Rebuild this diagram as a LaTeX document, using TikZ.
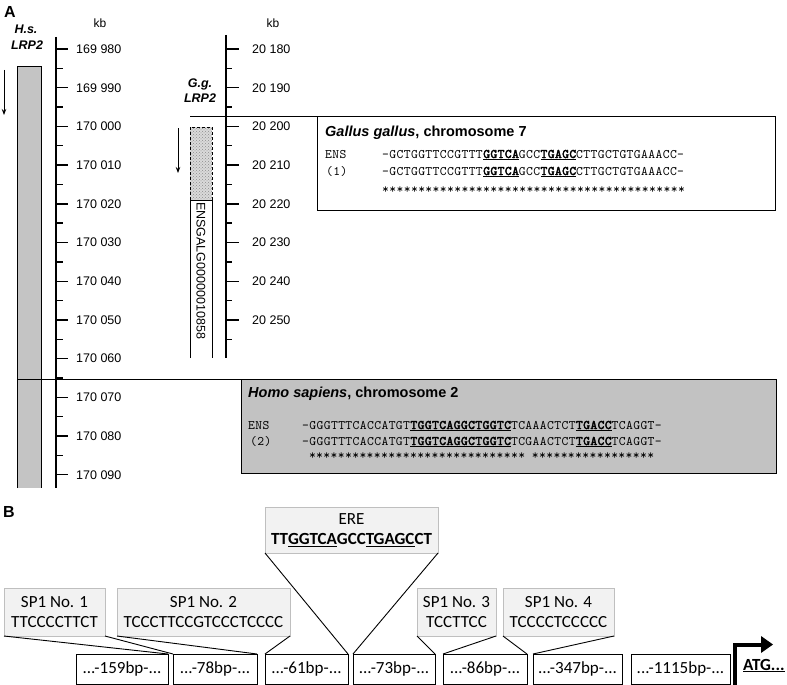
\documentclass[tikz,border=0pt]{standalone}
\usepackage{fontspec}
\setmainfont{Liberation Sans}
\newfontfamily\calfont{Carlito}
\newfontfamily\seqfont{lmmono10-regular.otf}[LetterSpace=3,BoldFont=lmmono10-regular.otf,BoldFeatures={FakeBold=3}]
\usetikzlibrary{arrows.meta,patterns}
\definecolor{bargray}{HTML}{C4C4C4}
\definecolor{boxgray}{HTML}{C2C2C2}
\definecolor{hatchgray}{HTML}{DADADA}
\definecolor{callfill}{HTML}{F2F2F2}
\definecolor{callline}{HTML}{BFBFBF}
\tikzset{
 axisline/.style={line width=1.4pt},
 tickline/.style={line width=1.4pt},
 ticklab/.style={anchor=west, inner sep=0, font=\fontsize{12.5}{15}\selectfont},
 kblab/.style={inner sep=0, font=\fontsize{12}{14}\selectfont},
 thinline/.style={line width=0.9pt},
 seqbox/.style={draw, line width=1pt, inner sep=0, outer sep=0, anchor=north west},
 callout/.style={draw=callline, fill=callfill, line width=0.9pt, inner sep=0, outer sep=0, align=center, font=\calfont\fontsize{17}{20.5}\selectfont},
 bpbox/.style={draw, line width=1pt, inner sep=0, outer sep=0, minimum height=30, font=\calfont\fontsize{17}{20}\selectfont},
 seqtxt/.style={anchor=base west, inner sep=0, font=\seqfont\fontsize{13}{15}\selectfont},
 titletxt/.style={anchor=base west, inner sep=0, font=\bfseries\fontsize{14.5}{17}\selectfont},
 panellab/.style={inner sep=0, font=\bfseries\fontsize{16}{19}\selectfont},
 genelab/.style={inner sep=0, font=\bfseries\itshape\fontsize{12.5}{15}\selectfont},
 callconn/.style={line width=0.9pt},
 smallarrow/.style={line width=0.9pt, -{Stealth[length=6pt,width=4.5pt]}},
}
\begin{document}
\begin{tikzpicture}[x=1pt,y=-1pt]
\useasboundingbox (0,0) rectangle (787,685);

% ---------------- Panel A ----------------
\node[panellab] (pA) at (10,12) {A};
\node[genelab] (hs1) at (26,29) {H.s.};
\node[genelab] (hs2) at (27,45) {LRP2};
\node[genelab] (gg1) at (200,84) {G.g.};
\node[genelab] (gg2) at (200,98) {LRP2};
\node[kblab] (kb1) at (100,23) {kb};
\node[kblab] (kb2) at (273,23) {kb};

% human gene bar
\fill[bargray] (17,66) rectangle (41,488);
\draw[thinline] (17,488) -- (17,66) -- (41,66) -- (41,488);
\coordinate (ha1) at (4,70);
\coordinate (ha2) at (4,115);
\draw[smallarrow] (ha1) -- (ha2);

% left axis
\draw[axisline] (56,37) -- (56,488);
\foreach \lab [count=\i from 0] in {169 980,169 990,170 000,170 010,170 020,170 030,170 040,170 050,170 060,170 070,170 080,170 090}{
  \pgfmathsetmacro\yy{49+38.7*\i}
  \draw[tickline] (56,\yy) -- (68,\yy);
  \node[ticklab] (L\i) at (76,\yy) {\lab};
}
\foreach \i in {0,...,10}{
  \pgfmathsetmacro\yy{49+38.7*\i+19.35}
  \draw[tickline] (56,\yy) -- (63,\yy);
}

% right axis
\draw[axisline] (226,35) -- (226,358);
\foreach \lab [count=\i from 0] in {20 180,20 190,20 200,20 210,20 220,20 230,20 240,20 250}{
  \pgfmathsetmacro\yy{49+38.7*\i}
  \draw[tickline] (226,\yy) -- (239,\yy);
  \node[ticklab] (R\i) at (252,\yy) {\lab};
}
\foreach \i in {0,...,7}{
  \pgfmathsetmacro\yy{49+38.7*\i+19.35}
  \draw[tickline] (226,\yy) -- (232,\yy);
}

% chicken gene
\fill[hatchgray] (190,127) rectangle (212,200);
\fill[pattern=crosshatch dots, pattern color=black!45] (190,127) rectangle (212,200);
\draw[thinline, dash pattern=on 3pt off 2pt] (190,127) rectangle (212,200);
\draw[thinline] (190,358) -- (190,200) -- (212,200) -- (212,358);
\node[rotate=-90, anchor=west, inner sep=0, font=\fontsize{12.5}{15}\selectfont] (ensg) at (201,202) {ENSGALG00000010858};
\coordinate (ca1) at (178,128);
\coordinate (ca2) at (178,173);
\draw[smallarrow] (ca1) -- (ca2);

% Gallus box
\node[seqbox, minimum width=458, minimum height=94] (gbox) at (317,116) {};
\coordinate (gl) at (190,116);
\draw[thinline] (gl) -- (gbox.north west);
\node[titletxt] (gt) at (325,136) {\textit{Gallus gallus}, chromosome 7};
\node[seqtxt] (g1l) at (325,158) {ENS};
\node[seqtxt] (g2l) at (326,175) {(1)};
\node[seqtxt] (g1s) at (382,158) {-GCTGGTTCCGTTT\textbf{\underline{GGTCA}}GCC\textbf{\underline{TGAGC}}CTTGCTGTGAAACC-};
\node[seqtxt] (g2s) at (382,175) {-GCTGGTTCCGTTT\textbf{\underline{GGTCA}}GCC\textbf{\underline{TGAGC}}CTTGCTGTGAAACC-};
\node[seqtxt] (g3s) at (382,193) {******************************************};

% Homo box
\node[seqbox, fill=boxgray, minimum width=535, minimum height=94] (hbox) at (241,379) {};
\coordinate (hl) at (17,379);
\draw[thinline] (hl) -- (hbox.north west);
\node[titletxt] (ht) at (248,397) {\textit{Homo sapiens}, chromosome 2};
\node[seqtxt] (h1l) at (248,429) {ENS};
\node[seqtxt] (h2l) at (250,445) {(2)};
\node[seqtxt] (h1s) at (302,429) {-GGGTTTCACCATGT\textbf{\underline{TGGTCAGGCTGGTC}}TCAAACTCT\textbf{\underline{TGACC}}TCAGGT-};
\node[seqtxt] (h2s) at (302,445) {-GGGTTTCACCATGT\textbf{\underline{TGGTCAGGCTGGTC}}TCGAACTCT\textbf{\underline{TGACC}}TCAGGT-};
\node[seqtxt] (h3s) at (302,459) {\phantom{-}******************************\phantom{A}*****************};

% ---------------- Panel B ----------------
\node[panellab] (pB) at (9,512) {B};

\node[bpbox, minimum width=92] (b1) at (122,669) {...-159bp-...};
\node[bpbox, minimum width=84] (b2) at (215,669) {...-78bp-...};
\node[bpbox, minimum width=83] (b3) at (306.5,669) {...-61bp-...};
\node[bpbox, minimum width=82] (b4) at (394,669) {...-73bp-...};
\node[bpbox, minimum width=84] (b5) at (485,669) {...-86bp-...};
\node[bpbox, minimum width=89] (b6) at (577.5,669) {...-347bp-...};
\node[bpbox, minimum width=99] (b7) at (680.5,669) {...-1115bp-...};

\node[callout, minimum width=101, minimum height=48] (sp1) at (54.5,612) {SP1 No. 1\\TTCCCCTTCT};
\node[callout, minimum width=173, minimum height=48] (sp2) at (203.5,612) {SP1 No. 2\\TCCCTTCCGTCCCTCCCC};
\node[callout, minimum width=173, minimum height=46] (ere) at (351.5,530) {ERE\\\textbf{TT\underline{GGTCA}GCC\underline{TGAGC}CT}};
\node[callout, minimum width=79, minimum height=48] (sp3) at (456.5,612) {SP1 No. 3\\TCCTTCC};
\node[callout, minimum width=111, minimum height=48] (sp4) at (558.5,612) {SP1 No. 4\\TCCCCTCCCCC};

\draw[callconn] (sp1.south west) -- (b1.north east);
\draw[callconn] (sp1.south east) -- (b2.north west);
\draw[callconn] (sp2.south west) -- (b2.north east);
\draw[callconn] (sp2.south east) -- (b3.north west);
\draw[callconn] (ere.south west) -- (b3.north east);
\draw[callconn] (ere.south east) -- (b4.north west);
\draw[callconn] (sp3.south west) -- (b4.north east);
\draw[callconn] (sp3.south east) -- (b5.north west);
\draw[callconn] (sp4.south west) -- (b5.north east);
\draw[callconn] (sp4.south east) -- (b6.north west);

% transcription start arrow
\coordinate (tss) at (735,685);
\coordinate (tssend) at (763,644.5);
\draw[line width=4pt] (tss) |- (tssend);
\fill (761,636) -- (773,644.5) -- (761,653) -- cycle;
\node[anchor=base west, inner sep=0, font=\calfont\bfseries\fontsize{17}{20}\selectfont] (atg) at (743,670) {\underline{ATG...}};
\end{tikzpicture}
\end{document}
